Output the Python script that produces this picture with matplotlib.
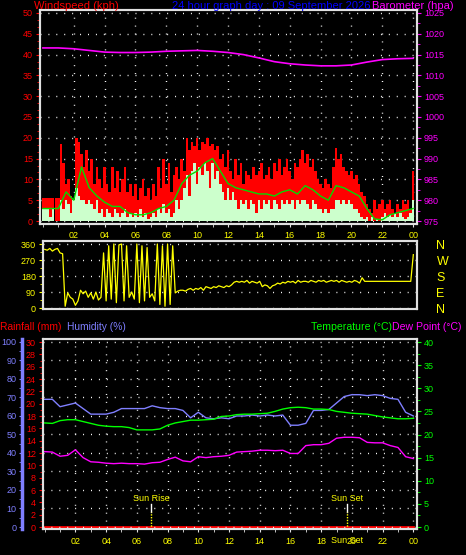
import matplotlib
matplotlib.use('Agg')
import matplotlib.pyplot as plt
import numpy as np
from matplotlib.ticker import MultipleLocator

plt.rcParams['font.family'] = ['Liberation Sans', 'DejaVu Sans']

day_label = '09 September 2026'

# 10 minute samples, 00:00 .. 24:00
gust_kph = [5.5, 5.5, 5.5, 5.5, 5.5, 5.5,
            5.5, 18.5, 14, 9, 10, 6,
            4, 20, 19, 16, 13, 17,
            12, 15, 9, 13, 10, 8,
            13, 9, 7, 13, 8, 12,
            7, 10, 13, 7, 9, 6,
            9, 5, 8, 10, 6, 8,
            5, 9, 6, 13, 8, 15,
            9, 14, 7, 11, 13, 10,
            15, 12, 20, 17, 19, 18,
            20, 17, 19, 18.5, 20, 18,
            18.5, 17, 18, 15, 16, 13,
            17, 12, 10, 15, 11, 14,
            9, 12, 11, 10, 13, 11,
            12, 14, 10, 11, 13, 10,
            14, 12, 15, 11, 13, 15,
            12, 10, 14, 13, 15, 17,
            14, 16, 13, 15, 12, 10,
            9, 8, 10, 9, 8, 13,
            17.5, 15, 16, 13, 12, 11,
            12, 10, 11, 9, 7, 6,
            4, 3, 2, 5, 3, 4,
            5, 3, 4, 5, 3, 2,
            4, 3, 5, 4, 5, 3,
            12]
speed_kph = [3, 3, 3, 1, 3, 0,
             0, 5, 3, 5, 4, 2,
             5, 8, 6, 5, 5, 4,
             5, 4, 3, 5, 2, 3,
             1, 3, 2, 1, 3, 2,
             1, 2, 3, 1, 2, 1,
             2, 1, 3, 1, 2, 0.5,
             1, 2, 1, 3, 2, 4,
             2, 3, 1, 2, 5, 3,
             5, 8, 11, 6, 12, 14,
             9, 13, 11, 14, 12, 8,
             14, 10, 12, 9, 7, 5,
             8, 5, 7, 5, 3, 5,
             4, 5, 3, 5, 4, 2,
             5, 3, 5, 4, 5, 3,
             5, 4, 3, 5, 4, 5,
             4, 5, 3, 5, 4, 5,
             5, 4, 3, 5, 4, 3,
             3, 2, 3, 2, 3, 3,
             5, 5, 4, 5, 4, 5,
             4, 3, 3, 2, 1, 0.5,
             1, 0, 1, 0, 0.5, 0,
             1, 2, 1, 1.5, 1, 2,
             1, 2, 1, 0.5, 1, 2,
             5]
wind_dir = [330, 325, 335, 320, 330, 335,
            310, 305, 10, 85, 60, 50,
            15, 40, 100, 80, 95, 60,
            85, 50, 90, 45, 60, 310,
            40, 350, 50, 360, 30, 355,
            360, 40, 350, 60, 90, 50,
            360, 30, 350, 40, 340, 60,
            80, 40, 360, 20, 350, 10,
            360, 20, 350, 85, 95, 100,
            100, 95, 105, 110, 100, 110,
            105, 115, 100, 120, 115, 110,
            120, 115, 125, 120, 115, 125,
            120, 130, 145, 150, 145, 150,
            145, 155, 140, 150, 145, 140,
            150, 120, 130, 125, 110, 125,
            130, 140, 135, 145, 140, 150,
            145, 150, 140, 155, 145, 150,
            150, 145, 155, 150, 145, 155,
            150, 155, 145, 150, 155, 150,
            155, 145, 155, 150, 145, 150,
            145, 155, 150, 140, 170, 150,
            150, 150, 150, 150, 150, 150,
            150, 150, 150, 150, 150, 150,
            150, 150, 150, 150, 150, 150,
            300]

# 30 minute samples
avg_kph = [3, 3, 3, 7, 5, 13, 8, 6, 4.5, 3.5, 3.5, 2, 1.5, 1.5, 2, 3, 3.5,
           5, 9, 11, 12, 14, 15, 12, 9, 8, 7.5, 7, 6.5, 6.5, 6, 7, 7.5, 6.5,
           8.5, 7.5, 6, 5, 8.5, 8, 7, 6, 3, 0.5, 0.3, 1.5, 2, 2.5, 3]
humidity = [69, 69, 65, 66, 67, 64, 61, 61, 61, 62, 64, 64, 64, 64, 65.5,
            64.5, 64, 64, 63, 59, 62, 59, 58.5, 59, 58.5, 60, 60, 60.5, 60,
            60.5, 60, 60.5, 55, 55, 56, 63, 63, 63.5, 67, 70.5, 71.5, 71.5,
            71, 71.5, 71, 69.5, 69, 62, 60]
temp_c = [22.5, 22.4, 23, 23.2, 23.2, 22.8, 22.4, 22, 21.8, 21.7, 21.7, 21.5,
          21, 21, 21, 21.2, 22, 22.5, 22.8, 23.1, 23.1, 23.2, 23.3, 23.9, 24,
          24.3, 24.4, 24.4, 24.5, 24.6, 25, 25.5, 25.8, 25.9, 25.8, 25.5,
          25.5, 25.4, 25, 24.8, 24.6, 24.5, 24.4, 24.1, 23.8, 23.6, 23.4,
          23.4, 23.5]
dew_c = [16.3, 16.2, 15.3, 15.5, 16.7, 15.0, 14.1, 14.0, 13.8, 13.7, 13.8,
         13.7, 13.7, 13.6, 13.9, 14.0, 14.6, 15.1, 14.3, 14.1, 15.2, 15.0,
         15.2, 15.3, 15.5, 16.2, 16.3, 16.4, 16.6, 16.6, 16.5, 16.6, 15.9,
         15.9, 17.6, 17.8, 17.8, 18.1, 19.2, 19.4, 19.4, 19.3, 18.3, 18.2,
         18.2, 17.6, 17.2, 15.2, 14.8]

# hourly samples
baro_hpa = [1016.6, 1016.6, 1016.4, 1016.0, 1015.6, 1015.5, 1015.5, 1015.6,
            1015.8, 1015.9, 1016.0, 1015.8, 1015.5, 1015.0, 1014.2, 1013.3,
            1012.8, 1012.5, 1012.3, 1012.3, 1012.5, 1013.2, 1013.8, 1014.0,
            1014.1]
rain_mm = [0, 0, 0, 0, 0, 0, 0, 0, 0, 0, 0, 0, 0, 0, 0, 0, 0, 0, 0, 0, 0, 0,
           0, 0, 0]

sunrise_h = 6.95
sunset_h = 19.68

hour_ticks = [2, 4, 6, 8, 10, 12, 14, 16, 18, 20, 22, 24]
hour_labels = ['02', '04', '06', '08', '10', '12', '14', '16', '18', '20',
               '22', '00']

t10 = np.arange(len(gust_kph)) / 6.0
t30 = np.arange(len(avg_kph)) / 2.0
t60 = np.arange(len(baro_hpa))

RED = '#ff0000'
MAG = '#ff00ff'
YEL = '#ffff00'
HUM = '#7f7fff'
GRN = '#00ff00'
SPINE = '#e0e0e0'
DOTS = (0, (0.7, 5))
FS = 6.5

fig = plt.figure(figsize=(4.66, 5.55), dpi=100, facecolor='black')


def style(ax):
    ax.set_facecolor('black')
    for s in ax.spines.values():
        s.set_color(SPINE)
        s.set_linewidth(1.5)


##wind speed + barometer
ax1 = fig.add_axes([40/466, 1-224/555, 377/466, 214/555])
style(ax1)
ax1.set_axisbelow(True)
ax1.bar(t10, gust_kph, width=1/6, color=RED, linewidth=0)
ax1.bar(t10, speed_kph, width=1/6, color='#ccffcc', linewidth=0)
ax1.plot(t30, avg_kph, color='#00dd00', lw=1)
ax1.set_xlim(-0.19, 24.25)
ax1.set_ylim(-0.72, 50.72)
ax1.set_yticks(range(0, 51, 5))
ax1.yaxis.set_minor_locator(MultipleLocator(5/3))
ax1.set_xticks(hour_ticks, hour_labels)
ax1.xaxis.set_minor_locator(MultipleLocator(1))
ax1.tick_params(axis='y', which='both', colors=RED, labelsize=FS, length=3, pad=2)
ax1.tick_params(axis='y', which='minor', length=2)
ax1.tick_params(axis='x', which='both', colors=SPINE, labelcolor=YEL,
                labelsize=FS, length=2, pad=3)
ax1.grid(True, color='white', linestyle=DOTS, linewidth=1)

ax1b = ax1.twinx()
style(ax1b)
ax1b.patch.set_visible(False)
ax1b.plot(t60, baro_hpa, color=MAG, lw=1.2)
ax1b.set_ylim(974.28, 1025.72)
ax1b.set_yticks(range(975, 1026, 5))
ax1b.yaxis.set_minor_locator(MultipleLocator(2.5))
ax1b.tick_params(axis='y', which='both', colors=MAG, labelsize=FS, length=3, pad=2)
ax1b.tick_params(axis='y', which='minor', length=2)

fig.text(34/466, 0.990, 'Windspeed (kph)', color=RED, fontsize=8, va='center')
fig.text(172/466, 0.990, '24 hour graph day : ' + day_label, color='#0000ff',
         fontsize=8, va='center')
fig.text(372/466, 0.990, 'Barometer (hpa)', color=MAG, fontsize=8, va='center')

##wind direction
ax2 = fig.add_axes([43/466, 1-309/555, 374/466, 68/555])
style(ax2)
ax2.set_axisbelow(True)
ax2.plot(t10, wind_dir, color=YEL, lw=0.9)
ax2.set_xlim(-0.11, 24.24)
ax2.set_ylim(-5.6, 376.9)
ax2.set_xticks([])
ax2.set_yticks([0, 90, 180, 270, 360])
ax2.yaxis.set_minor_locator(MultipleLocator(45))
ax2.tick_params(axis='y', which='both', colors=YEL, labelsize=FS, length=3, pad=2)
ax2.tick_params(axis='y', which='minor', length=2)
ax2.yaxis.grid(True, color='white', linestyle=DOTS, linewidth=1)

ax2b = ax2.twinx()
style(ax2b)
ax2b.patch.set_visible(False)
ax2b.set_ylim(-5.6, 376.9)
ax2b.set_yticks([0, 90, 180, 270, 360], ['N', 'E', 'S', 'W', 'N'])
ax2b.tick_params(axis='y', colors=YEL, labelsize=9, length=0, pad=14)

##rain / humidity / temperature
ax3 = fig.add_axes([43/466, 1-529/555, 374/466, 190/555])
style(ax3)
ax3.set_axisbelow(True)
ax3.set_xlim(-0.11, 24.24)
ax3.set_ylim(-0.32, 30.49)
ax3.plot(t60, rain_mm, color=RED, lw=2)
ax3.set_yticks(range(0, 31, 2))
ax3.yaxis.set_minor_locator(MultipleLocator(1))
ax3.tick_params(axis='y', which='both', colors=RED, labelsize=FS, length=3, pad=2)
ax3.tick_params(axis='y', which='minor', length=2)
ax3.set_xticks(hour_ticks, hour_labels)
ax3.xaxis.set_minor_locator(MultipleLocator(1))
ax3.tick_params(axis='x', which='both', colors=SPINE, labelcolor=YEL,
                labelsize=FS, length=2, pad=4)
ax3.xaxis.grid(True, color='white', linestyle=DOTS, linewidth=1)

ax3h = ax3.twinx()
ax3h.patch.set_visible(False)
ax3h.plot(t30, humidity, color=HUM, lw=1)
ax3h.set_ylim(-1.08, 101.6)
ax3h.yaxis.set_ticks_position('left')
ax3h.spines['left'].set_visible(True)
ax3h.spines['left'].set_position(('outward', 15))
ax3h.spines['left'].set_color(HUM)
ax3h.spines['left'].set_linewidth(2.5)
for s in ['right', 'top', 'bottom']:
    ax3h.spines[s].set_visible(False)
ax3h.set_yticks(range(0, 101, 10))
ax3h.yaxis.set_minor_locator(MultipleLocator(5))
ax3h.tick_params(axis='y', which='both', colors=HUM, labelsize=FS, length=2, pad=2)
ax3h.yaxis.grid(True, color='white', linestyle=DOTS, linewidth=1)

ax3t = ax3.twinx()
style(ax3t)
ax3t.patch.set_visible(False)
ax3t.plot(t30, temp_c, color=GRN, lw=1)
ax3t.plot(t30, dew_c, color=MAG, lw=1)
ax3t.set_ylim(-0.43, 40.65)
ax3t.set_yticks(range(0, 41, 5))
ax3t.yaxis.set_minor_locator(MultipleLocator(2.5))
ax3t.tick_params(axis='y', which='both', colors=GRN, labelsize=FS, length=3, pad=2)
ax3t.tick_params(axis='y', which='minor', length=2)

# sun rise / sun set markers
xt = ax3.get_xaxis_transform()
for h, name in [(sunrise_h, 'Sun Rise'), (sunset_h, 'Sun Set')]:
    ax3.text(h, 0.163, name, transform=xt, color=YEL, fontsize=FS,
             ha='center', va='center')
    ax3.axvline(h, ymin=0.089, ymax=0.132, color='white', lw=1)
    ax3.axvline(h, ymin=0.0, ymax=0.089, color=YEL, lw=1, linestyle=(0, (1, 1)))
# the original draws the sunset name again on the time axis
ax3.text(sunset_h, -0.063, 'Sun Set', transform=xt, color=YEL, fontsize=FS,
         ha='center', va='center', clip_on=False)

fig.text(0.5/466, 1-326.7/555, 'Rainfall (mm)', color=RED, fontsize=7.4, va='center')
fig.text(67/466, 1-326.7/555, 'Humidity (%)', color=HUM, fontsize=7.4, va='center')
fig.text(392/466, 1-326.7/555, 'Temperature (°C)', color=GRN, fontsize=7.6,
         va='center', ha='right')
fig.text(462/466, 1-326.7/555, 'Dew Point (°C)', color=MAG, fontsize=7.6,
         va='center', ha='right')

fig.savefig('out.png', dpi=100, facecolor='black')
